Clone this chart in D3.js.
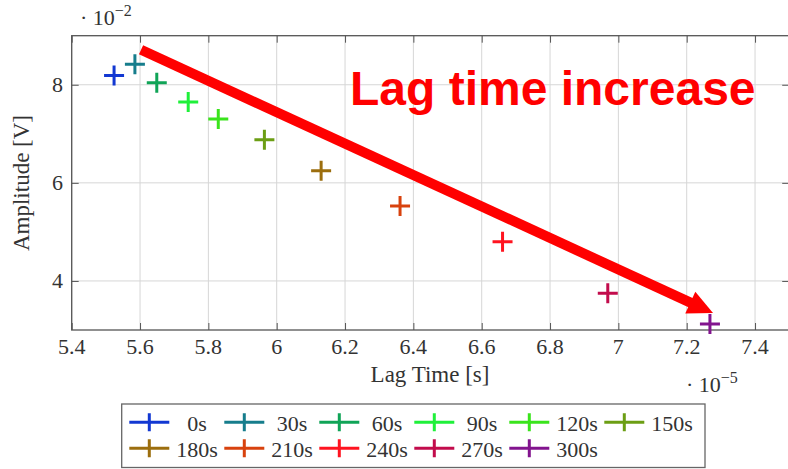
<!DOCTYPE html>
<html>
<head>
<meta charset="utf-8">
<script src="https://d3js.org/d3.v7.min.js"></script>
<style>
body { margin: 0; background: #fff; }
svg { display: block; }
.serif { font-family: "Liberation Serif", "Times New Roman", serif; fill: #333; }
</style>
</head>
<body>
<div id="chart"></div>
<script>
var w = 788,
h = 469;

// Data
var labels = ["0s","30s","60s","90s","120s","150s","180s","210s","240s","270s","300s"];
var lagTime = [5.524, 5.585, 5.649, 5.741, 5.829, 5.964, 6.130, 6.361, 6.661, 6.969, 7.268]; // x 1e-5 s
var amplitude = [8.19, 8.42, 8.04, 7.65, 7.30, 6.88, 6.245, 5.53, 4.80, 3.75, 3.12];  // x 1e-2 V
var colors = ["#1238d2","#167d8c","#10a457","#1ff03a","#3ae41c","#6c9e14","#9c6e0e","#d8420e","#ff1420","#c20c4c","#82148e"];

var xTicks = [5.4, 5.6, 5.8, 6, 6.2, 6.4, 6.6, 6.8, 7, 7.2, 7.4];
var xTickLabels = ["5.4","5.6","5.8","6","6.2","6.4","6.6","6.8","7","7.2","7.4"];
var yTicks = [4, 6, 8];
var yTickLabels = ["4","6","8"];

// annotation (data coords)
var arrowFrom = [5.603, 8.714];
var arrowTo = [7.277, 3.347];
var noteText = "Lag time increase";

var margin = {left: 71.7, top: 35.7, bottom: 330};

var x = d3.scaleLinear().domain([5.4, 7.5]).range([margin.left, margin.left + 2.1 * 341.67]);
var y = d3.scaleLinear().domain([3, 9]).range([margin.bottom, margin.top]);

var svg = d3.select("#chart").append("svg")
	.attr("width", w)
	.attr("height", h);

svg.append("rect").attr("width", w).attr("height", h).attr("fill", "#fff");

var plot = svg.append("g");

// grid
plot.selectAll(".xgrid").data(xTicks).enter().append("line")
	.attr("x1", function(d){ return x(d); })
	.attr("x2", function(d){ return x(d); })
	.attr("y1", y(3)).attr("y2", y(9))
	.attr("stroke", "#d6d6d6").attr("stroke-width", 1);
plot.selectAll(".ygrid").data(yTicks).enter().append("line")
	.attr("x1", x(5.4)).attr("x2", x(7.5))
	.attr("y1", function(d){ return y(d); })
	.attr("y2", function(d){ return y(d); })
	.attr("stroke", "#d6d6d6").attr("stroke-width", 1);

// axes (ticks inward, both sides)
var tickLen = 7;
var axisColor = "#555";
plot.append("g").attr("transform", "translate(0," + y(3) + ")")
	.call(d3.axisTop(x).tickValues(xTicks).tickSize(tickLen).tickFormat(""))
	.call(function(g){ g.select(".domain").remove(); g.selectAll("line").attr("stroke", axisColor); });
plot.append("g").attr("transform", "translate(0," + y(9) + ")")
	.call(d3.axisBottom(x).tickValues(xTicks).tickSize(tickLen).tickFormat(""))
	.call(function(g){ g.select(".domain").remove(); g.selectAll("line").attr("stroke", axisColor); });
plot.append("g").attr("transform", "translate(" + x(5.4) + ",0)")
	.call(d3.axisRight(y).tickValues(yTicks).tickSize(tickLen).tickFormat(""))
	.call(function(g){ g.select(".domain").remove(); g.selectAll("line").attr("stroke", axisColor); });
plot.append("g").attr("transform", "translate(" + x(7.5) + ",0)")
	.call(d3.axisLeft(y).tickValues(yTicks).tickSize(tickLen).tickFormat(""))
	.call(function(g){ g.select(".domain").remove(); g.selectAll("line").attr("stroke", axisColor); });

plot.append("rect")
	.attr("x", x(5.4)).attr("y", y(9))
	.attr("width", x(7.5) - x(5.4)).attr("height", y(3) - y(9))
	.attr("fill", "none").attr("stroke", axisColor).attr("stroke-width", 1.3);

// tick labels
svg.selectAll(".xlab").data(xTicks).enter().append("text")
	.attr("class", "serif")
	.attr("x", function(d){ return x(d); })
	.attr("y", 354)
	.attr("text-anchor", "middle")
	.attr("font-size", "22px")
	.text(function(d, i){ return xTickLabels[i]; });
svg.selectAll(".ylab").data(yTicks).enter().append("text")
	.attr("class", "serif")
	.attr("x", 63)
	.attr("y", function(d){ return y(d) + 7.5; })
	.attr("text-anchor", "end")
	.attr("font-size", "22px")
	.text(function(d, i){ return yTickLabels[i]; });

// scale exponents
var e1 = svg.append("text").attr("class", "serif").attr("x", 80).attr("y", 25).attr("font-size", "22px");
e1.append("tspan").text("\u00B7 10");
e1.append("tspan").attr("dy", -9).attr("font-size", "16px").text("\u22122");
var e2 = svg.append("text").attr("class", "serif").attr("x", 686).attr("y", 392).attr("font-size", "22px");
e2.append("tspan").text("\u00B7 10");
e2.append("tspan").attr("dy", -9).attr("font-size", "16px").text("\u22125");

// axis titles
svg.append("text")
	.attr("class", "serif")
	.attr("x", 430).attr("y", 382)
	.attr("text-anchor", "middle")
	.attr("font-size", "23px")
	.text("Lag Time [s]");
svg.append("text")
	.attr("class", "serif")
	.attr("transform", "translate(29,183) rotate(-90)")
	.attr("text-anchor", "middle")
	.attr("font-size", "23px")
	.text("Amplitude [V]");

// markers
var cross = "M-10,0H10M0,-10V10";
plot.selectAll(".pt").data(labels).enter().append("path")
	.attr("d", cross)
	.attr("transform", function(d, i){ return "translate(" + x(lagTime[i]) + "," + y(amplitude[i]) + ")"; })
	.attr("fill", "none")
	.attr("stroke", function(d, i){ return colors[i]; })
	.attr("stroke-width", 3);

// arrow annotation
var x0 = x(arrowFrom[0]), y0 = y(arrowFrom[1]),
	x1 = x(arrowTo[0]), y1 = y(arrowTo[1]);
var ang = Math.atan2(y1 - y0, x1 - x0);
var headLen = 25, headHalf = 12;
var bx = x1 - headLen * Math.cos(ang), by = y1 - headLen * Math.sin(ang);
svg.append("line")
	.attr("x1", x0).attr("y1", y0)
	.attr("x2", bx + 2 * Math.cos(ang)).attr("y2", by + 2 * Math.sin(ang))
	.attr("stroke", "#ff0000").attr("stroke-width", 10);
svg.append("path")
	.attr("d", "M" + x1 + "," + y1 +
		"L" + (bx + headHalf * Math.sin(ang)) + "," + (by - headHalf * Math.cos(ang)) +
		"L" + (bx - headHalf * Math.sin(ang)) + "," + (by + headHalf * Math.cos(ang)) + "Z")
	.attr("fill", "#ff0000");

svg.append("text")
	.attr("x", 350).attr("y", 105)
	.style("font-family", "'Liberation Sans', Arial, sans-serif")
	.style("font-weight", "bold")
	.style("font-size", "48px")
	.style("fill", "#ff0000")
	.text(noteText);

// legend
var legend = svg.append("g").attr("class", "legend");
legend.append("rect")
	.attr("x", 121.7).attr("y", 404)
	.attr("width", 705 - 121.7).attr("height", 63.5)
	.attr("fill", "#fff").attr("stroke", "#666").attr("stroke-width", 1.3);

var item = legend.selectAll(".item").data(labels).enter().append("g")
	.attr("transform", function(d, i){ return "translate(" + (149.3 + (i % 6) * 95) + "," + (422.3 + Math.floor(i / 6) * 26) + ")"; });
item.append("path")
	.attr("d", "M-20,0H20M0,-9V9")
	.attr("fill", "none")
	.attr("stroke", function(d, i){ return colors[i]; })
	.attr("stroke-width", 3);
item.append("text")
	.attr("class", "serif")
	.attr("x", 47.7).attr("y", 8.5)
	.attr("text-anchor", "middle")
	.attr("font-size", "22px")
	.text(function(d){ return d; });
</script>
</body>
</html>
